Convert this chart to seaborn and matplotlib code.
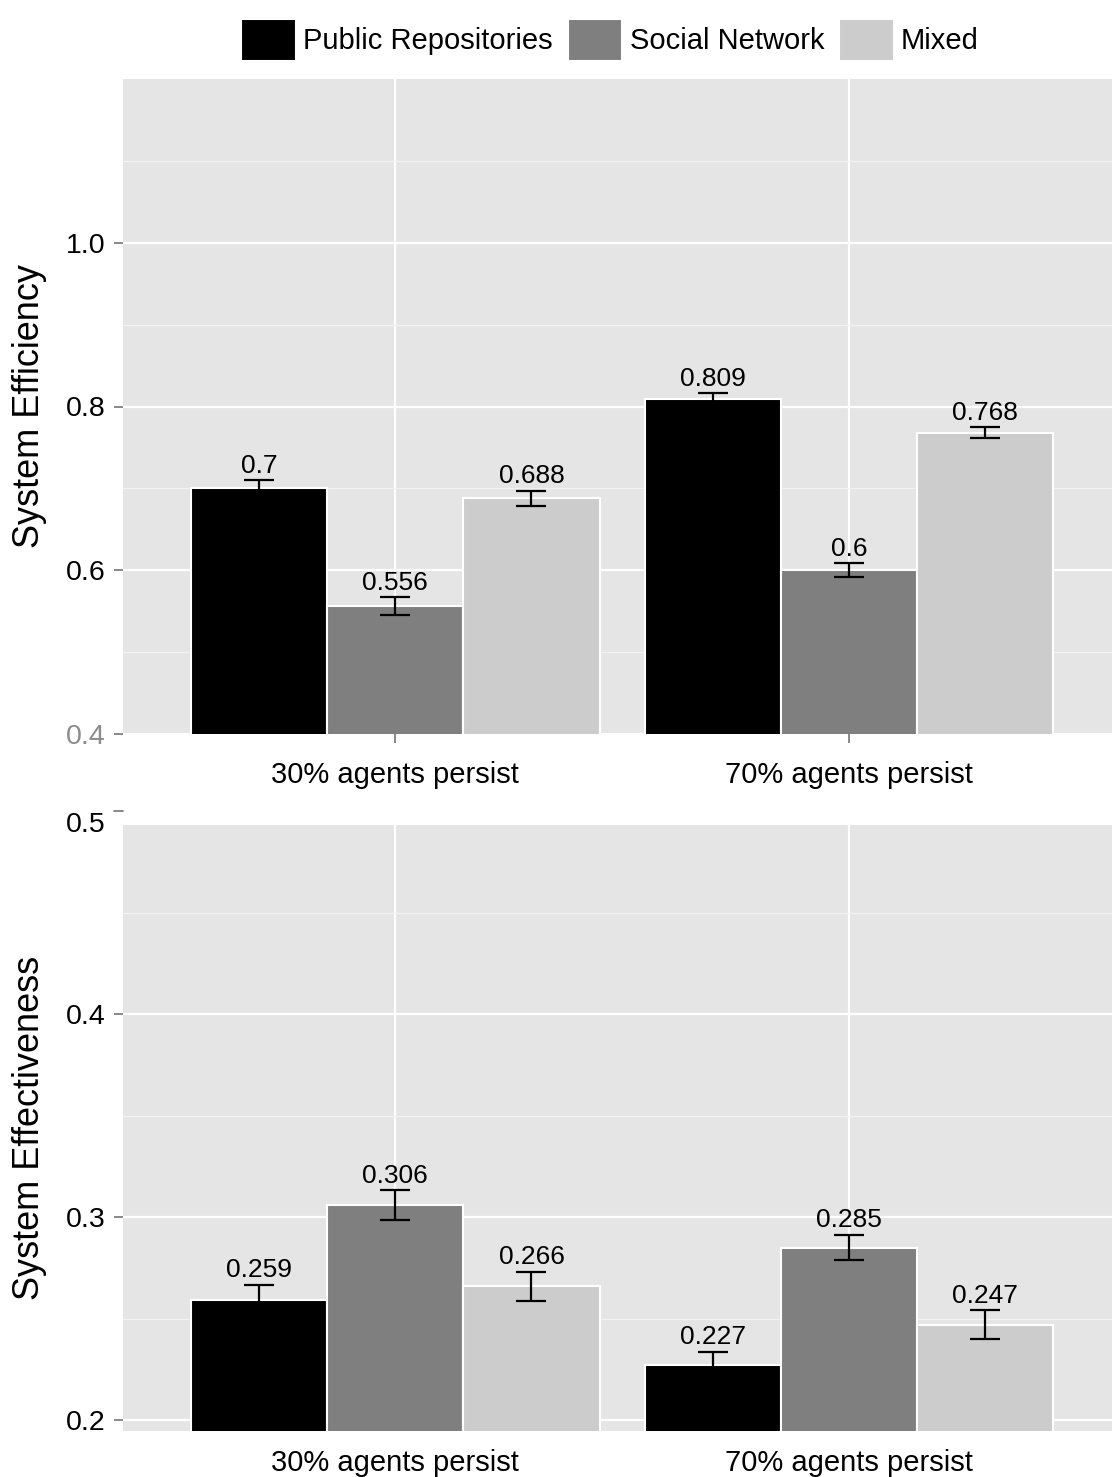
import matplotlib
matplotlib.use("Agg")
import matplotlib.pyplot as plt
import seaborn as sns
import pandas as pd
from matplotlib.ticker import FixedLocator

# ---------------- data ----------------
categories = ["30% agents persist", "70% agents persist"]
sources = ["Public Repositories", "Social Network", "Mixed"]
colors = ["#000000", "#7F7F7F", "#CCCCCC"]

eff_public = [0.700, 0.809]
eff_social = [0.556, 0.600]
eff_mixed = [0.688, 0.768]
eff_err_public = [0.010, 0.007]
eff_err_social = [0.011, 0.0085]
eff_err_mixed = [0.009, 0.0067]

effv_public = [0.259, 0.227]
effv_social = [0.306, 0.285]
effv_mixed = [0.266, 0.247]
effv_err_public = [0.0075, 0.0066]
effv_err_social = [0.0073, 0.0062]
effv_err_mixed = [0.0072, 0.0070]

eff_ticks = [0.4, 0.6, 0.8, 1.0]
eff_minor = [0.5, 0.7, 0.9, 1.1]
effv_ticks = [0.2, 0.3, 0.4]
effv_minor = [0.25, 0.35, 0.45]

# ---------------- style ----------------
sns.set_theme(style="white")
plt.rcParams["font.family"] = ["Liberation Sans", "DejaVu Sans"]
plt.rcParams["text.color"] = "black"
plt.rcParams["axes.labelcolor"] = "black"
plt.rcParams["xtick.labelcolor"] = "black"
plt.rcParams["ytick.labelcolor"] = "black"

W, H = 1112, 1477
fig = plt.figure(figsize=(W / 100, H / 100), dpi=100)
ax1 = fig.add_axes([123 / W, 1 - 734 / H, 989 / W, 655 / H])
ax2 = fig.add_axes([123 / W, 1 - 1431 / H, 989 / W, 606 / H])


def make_df(vals_list):
    rows = []
    for s, vals in zip(sources, vals_list):
        for c, v in zip(categories, vals):
            rows.append({"cat": c, "src": s, "val": v})
    return pd.DataFrame(rows)


def draw(ax, vals_list, errs_list, ylim, ticks, minor, ylabel, xpad, xdir):
    df = make_df(vals_list)
    sns.barplot(data=df, x="cat", y="val", hue="src", order=categories,
                hue_order=sources, palette=colors, width=0.9, errorbar=None,
                edgecolor="white", linewidth=1.5, ax=ax, zorder=2)
    for cont, vals, errs in zip(ax.containers, vals_list, errs_list):
        xs = [p.get_x() + p.get_width() / 2 for p in cont.patches]
        ax.errorbar(xs, vals, yerr=errs, fmt="none", ecolor="black",
                    elinewidth=1.6, capsize=10.8, capthick=1.6, zorder=3)
        for x, v, e in zip(xs, vals, errs):
            ax.annotate(f"{v:g}", (x, v + e), xytext=(0, 5.5),
                        textcoords="offset points", ha="center",
                        va="baseline", fontsize=19, color="black", zorder=4)
    ax.set_facecolor("#E5E5E5")
    for sp in ax.spines.values():
        sp.set_visible(False)
    ax.set_xlim(-0.6, 1.579)
    ax.set_ylim(*ylim)
    ax.yaxis.set_major_locator(FixedLocator(ticks))
    ax.yaxis.set_minor_locator(FixedLocator(minor))
    ax.set_yticklabels([f"{t:.1f}" for t in ticks])
    ax.grid(which="major", color="white", linewidth=1.6, zorder=0)
    ax.grid(which="minor", axis="y", color="#F2F2F2", linewidth=0.9, zorder=0)
    ax.set_axisbelow(True)
    ax.tick_params(axis="both", which="major", left=True, bottom=True,
                   length=6.7, width=1.3, color="#7F7F7F", labelcolor="black")
    ax.tick_params(axis="y", which="major", labelsize=20.5, pad=6)
    ax.tick_params(axis="x", which="major", labelsize=21, pad=xpad,
                   direction=xdir)
    ax.tick_params(which="minor", length=0)
    ax.set_xlabel("")
    ax.set_ylabel(ylabel, fontsize=26, color="black")
    ax.yaxis.set_label_coords(-76 / 989, 0.5)
    leg = ax.get_legend()
    if leg is not None:
        leg.remove()


draw(ax1, [eff_public, eff_social, eff_mixed],
     [eff_err_public, eff_err_social, eff_err_mixed],
     (0.4, 1.2), eff_ticks, eff_minor, "System Efficiency", 13, "out")
draw(ax2, [effv_public, effv_social, effv_mixed],
     [effv_err_public, effv_err_social, effv_err_mixed],
     (0.1946, 0.4933), effv_ticks, effv_minor, "System Effectiveness",
     13, "in")

# lowest top-panel tick label appears grey in the reference
ax1.get_yticklabels()[0].set_color("#8C8C8C")

# the 0.5 tick of the lower panel sits just above its panel
ytr = ax2.get_yaxis_transform()
ax2.plot([-9.3 / 989, 0], [0.5, 0.5], transform=ytr, color="#7F7F7F",
         linewidth=1.3, clip_on=False)
ax2.text(-17.5 / 989, 0.4933, "0.5", transform=ytr, ha="right", va="center",
         fontsize=20.5, color="black", clip_on=False)

# legend
handles, labels = ax1.get_legend_handles_labels()
if not handles:
    handles = [plt.Rectangle((0, 0), 1, 1, facecolor=c, edgecolor="white")
               for c in colors]
    labels = sources
fig.legend(handles[:3], labels[:3], loc="center",
           bbox_to_anchor=(610 / W, 1 - 40 / H), ncol=3, frameon=False,
           fontsize=21, handlelength=1.88, handleheight=1.85,
           handletextpad=0.25, columnspacing=0.5, borderpad=0,
           labelcolor="black")

fig.savefig("out.png", dpi=100)
